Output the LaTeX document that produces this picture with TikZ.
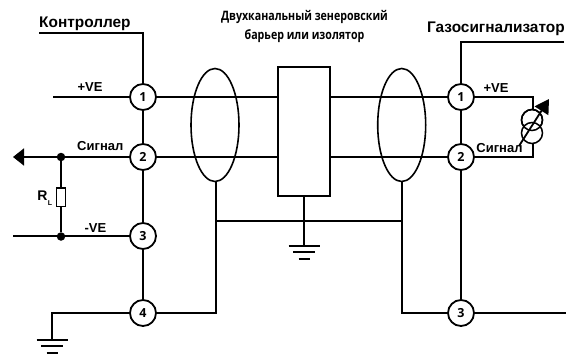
\documentclass[tikz,border=0pt]{standalone}
\usepackage{fontspec}
\setmainfont{Liberation Sans}
\newfontfamily\condfont{Open Sans}
\usetikzlibrary{arrows.meta,shapes.geometric,calc}
\tikzset{
  wire/.style={line width=1.8pt,black},
  term/.style={circle,draw=black,fill=white,line width=1.8pt,minimum size=26pt,inner sep=0pt,font=\condfont\bfseries\fontsize{12.5}{13}\selectfont},
  shield/.style={ellipse,draw=black,line width=1.6pt,minimum width=48pt,minimum height=113pt,inner sep=0pt},
  lab/.style={font=\bfseries\fontsize{13}{15}\selectfont,inner sep=0pt},
  head/.style={font=\bfseries\fontsize{15.4}{17}\selectfont,inner sep=0pt},
  dotj/.style={circle,fill=black,minimum size=8.5pt,inner sep=0pt},
  coil/.style={circle,draw=black,line width=1.5pt,minimum size=21pt,inner sep=0pt},
}
\newcommand{\groundsym}[1]{%
  \draw[wire] ($(#1)+(-15.5,0)$) -- ($(#1)+(15.5,0)$);
  \draw[wire] ($(#1)+(-11,6)$) -- ($(#1)+(11,6)$);
  \draw[wire] ($(#1)+(-5.5,13)$) -- ($(#1)+(5.5,13)$);}
\begin{document}
\begin{tikzpicture}[x=1pt,y=-1pt]
\useasboundingbox (0,0) rectangle (578,356);
% free ends
\coordinate (ktl) at (39,33);
\coordinate (ktc) at (143,33);
\coordinate (gzr) at (564,42);
\coordinate (gzc) at (461,42);
\coordinate (p1) at (53,97);
\coordinate (sigend) at (13,157);
\coordinate (neg) at (13,236);
\coordinate (gl) at (52,313);
\coordinate (glb) at (52,340);
\coordinate (gc) at (304,246);
\coordinate (rr1) at (533,97);
\coordinate (rr2) at (533,157);
\coordinate (r3end) at (566,313);
\coordinate (arA) at (519,146);
\coordinate (arB) at (549,99);
\coordinate (sl) at (216,182);
\coordinate (sr) at (402,182);
\coordinate (hl) at (216,221);
\coordinate (hr) at (402,221);
\coordinate (cb) at (304,196);
\coordinate (sl4) at (216,313);
\coordinate (sr3) at (402,313);
% barrier
\node[draw=black,line width=1.8pt,fill=white,minimum width=52pt,minimum height=129pt,inner sep=0pt] (box) at (304,131.5) {};
% terminals
\node[term] (l1) at (143,97) {1};
\node[term] (l2) at (143,157) {2};
\node[term] (l3) at (143,236) {3};
\node[term] (l4) at (143,313) {4};
\node[term] (r1) at (461,97) {1};
\node[term] (r2) at (461,157) {2};
\node[term] (r3) at (461,313) {3};
% junctions, resistor
\node[dotj] (j1) at (61,157) {};
\node[dotj] (j2) at (61,236.5) {};
\node[draw=black,line width=1.5pt,fill=white,minimum width=9pt,minimum height=18.5pt,inner sep=0pt] (rl) at (61,197.3) {};
% wires
\draw[wire] (ktl) -- (ktc) -- (l1);
\draw[wire] (l1) -- (l2);
\draw[wire] (l2) -- (l3);
\draw[wire] (l3) -- (l4);
\draw[wire] (gzr) -- (gzc) -- (r1);
\draw[wire] (r1) -- (r2);
\draw[wire] (r2) -- (r3);
\draw[wire] (p1) -- (l1);
\draw[wire] (neg) -- (l3);
\draw[wire,-{Triangle[length=11pt,width=17pt]}] (l2) -- (sigend);
\draw[wire] (j1) -- (rl);
\draw[wire] (rl) -- (j2);
\draw[wire] (l1) -- (box.west |- l1);
\draw[wire] (l2) -- (box.west |- l2);
\draw[wire] (box.east |- r1) -- (r1);
\draw[wire] (box.east |- r2) -- (r2);
\draw[wire] (l4) -- (sl4) -- (sl);
\draw[wire] (r3) -- (sr3) -- (sr);
\draw[wire] (hl) -- (hr);
\draw[wire] (cb) -- (gc);
\draw[wire] (l4) -- (gl) -- (glb);
\draw[wire] (r3) -- (r3end);
\draw[wire] (r1) -- (rr1) -- (rr2) -- (r2);
\groundsym{gc}
\groundsym{glb}
% shields
\node[shield] (e1) at (215,125) {};
\node[shield] (e2) at (401.7,125) {};
% sensor
\node[coil,fill=white] (c1) at (532,120) {};
\node[coil,fill=white] (c2) at (532,133) {};
\node[coil] at (532,120) {};
\draw[wire,-{Triangle[length=14pt,width=16pt]}] (arA) -- (arB);
% labels
\node[head,anchor=base west] (tk) at (39,27.3) {Контроллер};
\node[head,anchor=base west] (tg) at (427,32.7) {Газосигнализатор};
\node[font=\condfont\bfseries\fontsize{13}{19}\selectfont,align=center,inner sep=0pt,xscale=0.82] (tt) at (304.5,26.5) {Двухканальный зенеровский\\барьер или изолятор};
\node[lab,anchor=base] (lp1) at (90,91.7) {+VE};
\node[lab,anchor=base] (ls1) at (100.3,150.7) {Сигнал};
\node[lab,anchor=base] (ln) at (95.5,232) {-VE};
\node[lab,anchor=base] (lp2) at (496,92.3) {+VE};
\node[lab,anchor=base] (ls2) at (499.5,152.3) {Сигнал};
\node[font=\bfseries\fontsize{14}{15}\selectfont,inner sep=0pt,anchor=base] (rlab) at (42.5,200) {R};
\node[font=\bfseries\fontsize{7}{8}\selectfont,inner sep=0pt,anchor=base] (rsub) at (50,205) {L};
\end{tikzpicture}
\end{document}
